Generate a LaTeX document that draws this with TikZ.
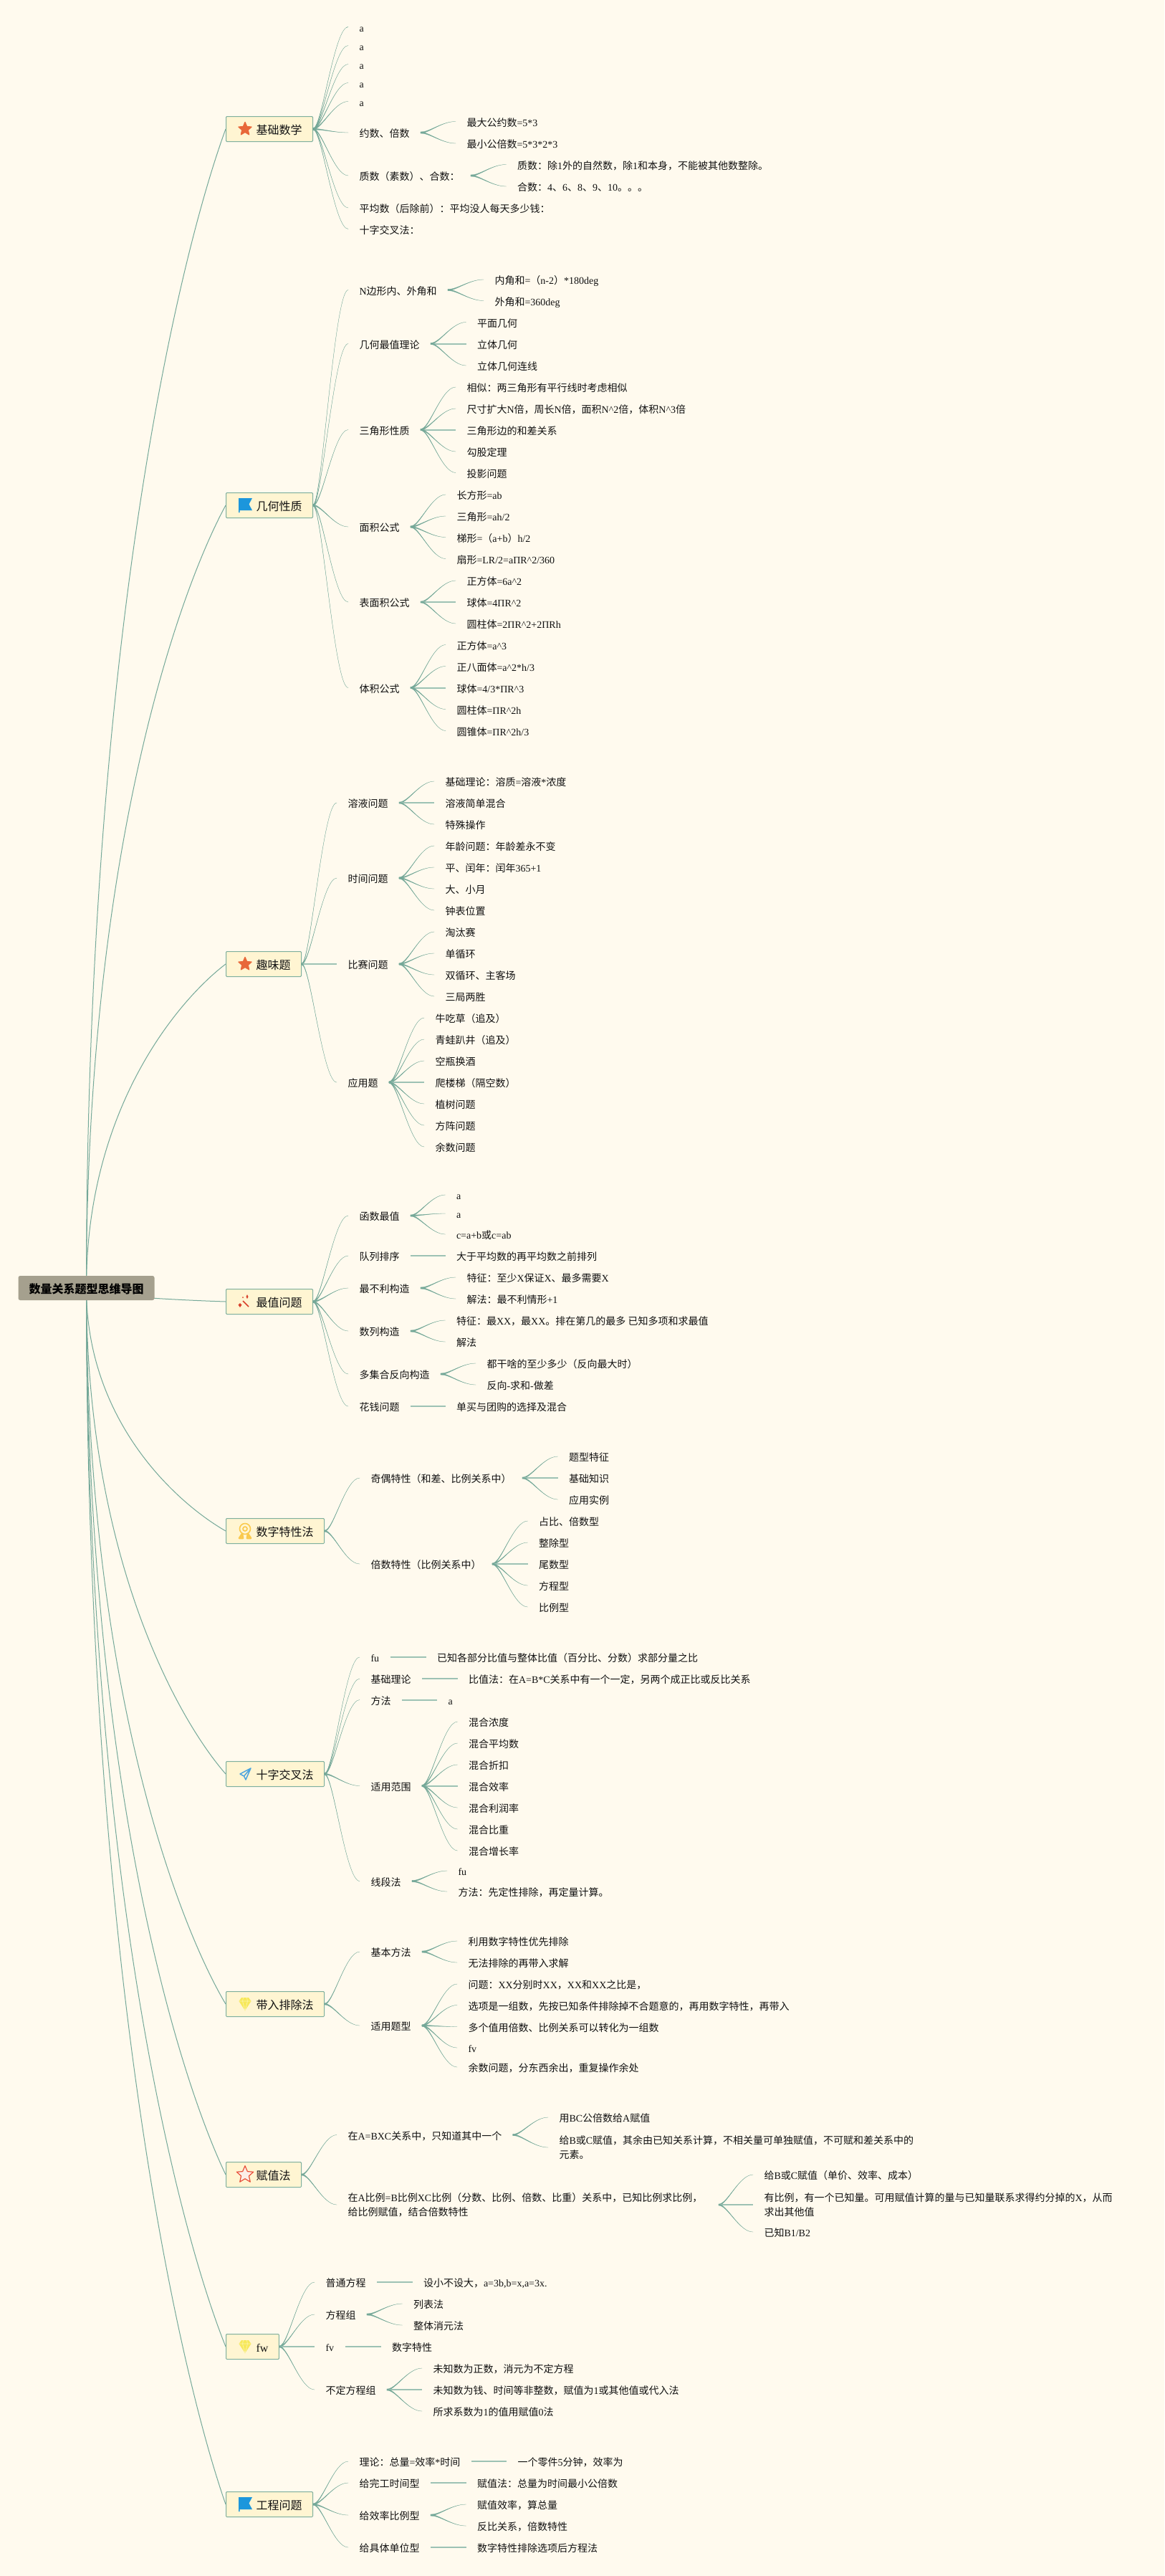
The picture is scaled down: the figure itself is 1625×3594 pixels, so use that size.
\documentclass[tikz,border=0pt]{standalone}
\usepackage{fontspec}
\usetikzlibrary{calc,backgrounds}
\setmainfont{Liberation Serif}
\newfontfamily\latinf{Liberation Serif}
\newfontfamily\cjk{Noto Sans CJK SC}

% font switch between Latin runs and CJK runs
\newXeTeXintercharclass\cjkclass
\count255="4E00
\loop\ifnum\count255<"A000 \XeTeXcharclass\count255=\cjkclass \advance\count255 by 1 \repeat
\count255="3000
\loop\ifnum\count255<"3040 \XeTeXcharclass\count255=\cjkclass \advance\count255 by 1 \repeat
\count255="FF00
\loop\ifnum\count255<"FFF0 \XeTeXcharclass\count255=\cjkclass \advance\count255 by 1 \repeat
\XeTeXinterchartoks 0 \cjkclass={\cjk}
\XeTeXinterchartoks 4095 \cjkclass={\cjk}
\XeTeXinterchartoks \cjkclass 0={\latinf}
\XeTeXinterchartoks 4095 0={\latinf}
\XeTeXinterchartokenstate=1

\newcommand{\ct}{\textasciicircum{}}

\definecolor{paperc}{HTML}{FFFAEE}
\definecolor{linkc}{HTML}{74A898}
\definecolor{flatc}{HTML}{9DC2B4}
\definecolor{boxc}{HTML}{FFF5D2}
\definecolor{edgec}{HTML}{7FB09E}
\definecolor{rootc}{HTML}{A5A08E}
\definecolor{inkc}{HTML}{111111}
\definecolor{starc}{HTML}{E8683A}
\definecolor{ringc}{HTML}{E8503A}
\definecolor{flagc}{HTML}{1C96DC}
\definecolor{wandc}{HTML}{D9402B}
\definecolor{medalc}{HTML}{FAC94C}
\definecolor{planec}{HTML}{4AA3DF}
\definecolor{gemc}{HTML}{F7E85A}

\tikzset{
  every picture/.style={line width=0.75pt},
  leafbase/.style={anchor=west,inner xsep=11.25pt,inner ysep=0pt,text=inkc,font=\fontsize{10.5}{15}\selectfont},
  leaf/.style={leafbase,text height=11.3pt,text depth=1.5pt},
  leaftwo/.style={leafbase,align=left},
  mainbox/.style={anchor=west,draw=edgec,fill=boxc,rounded corners=0.8pt,inner xsep=11.25pt,inner ysep=0pt,minimum height=26.25pt,text height=12.4pt,text depth=1.8pt,text=inkc,font=\fontsize{12}{15}\selectfont},
  rootbox/.style={fill=rootc,rounded corners=2pt,minimum width=142.5pt,minimum height=25.5pt,inner sep=0pt,text height=12.4pt,text depth=1.8pt,text=black,font=\fontsize{12}{15}\selectfont\bfseries},
  flat/.style={draw=flatc,line width=1.5pt},
  link/.style={draw=linkc,fill=linkc,line width=0.2pt,to path={
    ($(\tikztostart)+(0,-1)$) .. controls ($(\tikztostart)!0.25!(\tikztotarget|-\tikztostart)+(0,-0.5)$) and ($(\tikztostart|-\tikztotarget)!0.6!(\tikztotarget)$) .. (\tikztotarget)
    .. controls ($(\tikztostart|-\tikztotarget)!0.6!(\tikztotarget)$) and ($(\tikztostart)!0.25!(\tikztotarget|-\tikztostart)+(0,0.5)$) .. ($(\tikztostart)+(0,1)$) -- cycle}},
  trunk/.style={draw=linkc,line width=0.75pt,to path={
    .. controls ($(\tikztostart)!0.55!(\tikztostart|-\tikztotarget)$) and ($(\tikztostart)!0.85!(\tikztotarget)!0.235!(\tikztostart|-\tikztotarget)$) .. (\tikztotarget)}}
}

\newcommand{\iconstar}[1]{\begin{scope}[shift={(#1)}]
  \fill[draw=starc,fill=starc,line width=1pt,line join=round] (0,-9.5) -- (2.6,-3.4) -- (9,-2.9) -- (4.2,1.4) -- (5.6,7.8) -- (0,4.4) -- (-5.6,7.8) -- (-4.2,1.4) -- (-9,-2.9) -- (-2.6,-3.4) -- cycle;
\end{scope}}
\newcommand{\iconring}[1]{\begin{scope}[shift={(#1)},scale=1.3]
  \draw[draw=ringc,fill=starc!12,line width=0.9pt,line join=round] (0,-9.5) -- (2.6,-3.4) -- (9,-2.9) -- (4.2,1.4) -- (5.6,7.8) -- (0,4.4) -- (-5.6,7.8) -- (-4.2,1.4) -- (-9,-2.9) -- (-2.6,-3.4) -- cycle;
\end{scope}}
\newcommand{\iconflag}[1]{\begin{scope}[shift={(#1)}]
  \fill[flagc] (-9.5,-10) -- (9.5,-10) -- (5,-1.5) -- (9.5,7) -- (-8,7) -- (-8,10) -- (-9.5,10) -- cycle;
\end{scope}}
\newcommand{\iconwand}[1]{\begin{scope}[shift={(#1)}]
  \draw[wandc,line width=1.3pt] (-3,-1) -- (5,7);
  \fill[wandc] (3,-10) -- (4.5,-7) -- (3,-4) -- (1.5,-7) -- cycle (-7,2) -- (-4.5,4.5) -- (-7,8) -- (-9.5,4.5) -- cycle (-3,-6) circle (1);
\end{scope}}
\newcommand{\iconmedal}[1]{\begin{scope}[shift={(#1)}]
  \draw[medalc,line width=1.2pt] (0,-3) circle (7.5) (0,-3) circle (3);
  \draw[medalc,line width=2pt,line join=round] (-4,4) -- (-8,10) -- (-3,10) -- cycle (4,4) -- (8,10) -- (3,10) -- cycle;
\end{scope}}
\newcommand{\iconplane}[1]{\begin{scope}[shift={(#1)}]
  \draw[planec,line width=1.1pt,line join=round] (8,-8) -- (-7,0) -- (-1.5,3) -- (1,8) -- cycle (8,-8) -- (-1.5,3);
\end{scope}}
\newcommand{\icongem}[1]{\begin{scope}[shift={(#1)}]
  \fill[gemc] (-5,-9) -- (5,-9) -- (8.5,-4) -- (0,9) -- (-8.5,-4) -- cycle;
  \draw[gemc!50,line width=0.5pt] (-8.5,-4) -- (8.5,-4) (-2.5,-9) -- (-3.5,-4) -- (0,9) -- (3.5,-4) -- (2.5,-9);
\end{scope}}

\begin{document}
\begin{tikzpicture}[x=0.75pt,y=0.75pt,yscale=-1,xscale=1]

	% Root and main topics
	\node[rootbox] (root) at (120.5,1797) {数量关系题型思维导图};
	\node[mainbox] (jichu) at (315,180) {\hspace*{20.25pt}基础数学};
	\node[mainbox] (jihe) at (315,705) {\hspace*{20.25pt}几何性质};
	\node[mainbox] (quwei) at (315,1345) {\hspace*{20.25pt}趣味题};
	\node[mainbox] (zuizhi) at (315,1816) {\hspace*{20.25pt}最值问题};
	\node[mainbox] (shuzi) at (315,2136) {\hspace*{20.25pt}数字特性法};
	\node[mainbox] (shizi) at (315,2475) {\hspace*{20.25pt}十字交叉法};
	\node[mainbox] (dairu) at (315,2796) {\hspace*{20.25pt}带入排除法};
	\node[mainbox] (fuzhi) at (315,3034) {\hspace*{20.25pt}赋值法};
	\node[mainbox] (fangcheng) at (315,3274) {\hspace*{20.25pt}fw};
	\node[mainbox] (gongcheng) at (315,3494) {\hspace*{20.25pt}工程问题};

	% Paper and trunk lines, behind the root
	\begin{scope}[on background layer]
	\fill[paperc] (0,0) rectangle (1625,3594);
	\draw[trunk] (root.center) to (jichu.west);
	\draw[trunk] (root.center) to (jihe.west);
	\draw[trunk] (root.center) to (quwei.west);
	\draw[trunk] (root.center) to (zuizhi.west);
	\draw[trunk] (root.center) to (shuzi.west);
	\draw[trunk] (root.center) to (shizi.west);
	\draw[trunk] (root.center) to (dairu.west);
	\draw[trunk] (root.center) to (fuzhi.west);
	\draw[trunk] (root.center) to (fangcheng.west);
	\draw[trunk] (root.center) to (gongcheng.west);
	\end{scope}

	% Icons
	\iconstar{342,180}
	\iconflag{342.5,705}
	\iconstar{342,1345}
	\iconwand{342,1816}
	\iconmedal{342,2136}
	\iconplane{342,2475}
	\icongem{342,2796}
	\iconring{342,3034}
	\icongem{342,3274}
	\iconflag{342.5,3494}

	% jichu
	\node[leaf] (jichuA) at (486,37.5) {a};
	\node[leaf] (jichuB) at (486,63.5) {a};
	\node[leaf] (jichuC) at (486,89.5) {a};
	\node[leaf] (jichuD) at (486,115.5) {a};
	\node[leaf] (jichuE) at (486,141.5) {a};
	\node[leaf] (jichuF) at (486,185) {约数、倍数};
	\node[leaf] (jichuG) at (486,245) {质数（素数）、合数：};
	\node[leaf] (jichuH) at (486,290) {平均数（后除前）：平均没人每天多少钱：};
	\node[leaf] (jichuI) at (486,319.5) {十字交叉法：};
	\node[leaf] (jichuF1) at (636,169.5) {最大公约数=5*3};
	\node[leaf] (jichuF2) at (636,200) {最小公倍数=5*3*2*3};
	\node[leaf] (jichuG1) at (706.5,229.5) {质数：除1外的自然数，除1和本身，不能被其他数整除。};
	\node[leaf] (jichuG2) at (706.5,260) {合数：4、6、8、9、10。。。};
	\draw[link] (jichu.east) to (jichuA.west);
	\draw[link] (jichu.east) to (jichuB.west);
	\draw[link] (jichu.east) to (jichuC.west);
	\draw[link] (jichu.east) to (jichuD.west);
	\draw[link] (jichu.east) to (jichuE.west);
	\draw[link] (jichu.east) to (jichuF.west);
	\draw[link] (jichu.east) to (jichuG.west);
	\draw[link] (jichu.east) to (jichuH.west);
	\draw[link] (jichu.east) to (jichuI.west);
	\draw[link] (jichuF.east) to (jichuF1.west);
	\draw[link] (jichuF.east) to (jichuF2.west);
	\draw[link] (jichuG.east) to (jichuG1.west);
	\draw[link] (jichuG.east) to (jichuG2.west);

	% jihe
	\node[leaf] (jiheA) at (486,404.5) {N边形内、外角和};
	\node[leaf] (jiheB) at (486,479.5) {几何最值理论};
	\node[leaf] (jiheC) at (486,599.5) {三角形性质};
	\node[leaf] (jiheD) at (486,735) {面积公式};
	\node[leaf] (jiheE) at (486,840) {表面积公式};
	\node[leaf] (jiheF) at (486,959.5) {体积公式};
	\node[leaf] (jiheA1) at (675,390) {内角和=（n-2）*180deg};
	\node[leaf] (jiheA2) at (675,419.5) {外角和=360deg};
	\node[leaf] (jiheB1) at (650.5,449.5) {平面几何};
	\node[leaf] (jiheB2) at (650.5,479.5) {立体几何};
	\node[leaf] (jiheB3) at (650.5,510) {立体几何连线};
	\node[leaf] (jiheC1) at (636,540) {相似：两三角形有平行线时考虑相似};
	\node[leaf] (jiheC2) at (636,570) {尺寸扩大N倍，周长N倍，面积N\ct2倍，体积N\ct3倍};
	\node[leaf] (jiheC3) at (636,599.5) {三角形边的和差关系};
	\node[leaf] (jiheC4) at (636,630) {勾股定理};
	\node[leaf] (jiheC5) at (636,659.5) {投影问题};
	\node[leaf] (jiheD1) at (622,690) {长方形=ab};
	\node[leaf] (jiheD2) at (622,720) {三角形=ah/2};
	\node[leaf] (jiheD3) at (622,749.5) {梯形=（a+b）h/2};
	\node[leaf] (jiheD4) at (622,779.5) {扇形=LR/2=aΠR\ct2/360};
	\node[leaf] (jiheE1) at (636,810) {正方体=6a\ct2};
	\node[leaf] (jiheE2) at (636,840) {球体=4ΠR\ct2};
	\node[leaf] (jiheE3) at (636,870) {圆柱体=2ΠR\ct2+2ΠRh};
	\node[leaf] (jiheF1) at (622,899.5) {正方体=a\ct3};
	\node[leaf] (jiheF2) at (622,929.5) {正八面体=a\ct2*h/3};
	\node[leaf] (jiheF3) at (622,959.5) {球体=4/3*ΠR\ct3};
	\node[leaf] (jiheF4) at (622,989.5) {圆柱体=ΠR\ct2h};
	\node[leaf] (jiheF5) at (622,1019.5) {圆锥体=ΠR\ct2h/3};
	\draw[link] (jihe.east) to (jiheA.west);
	\draw[link] (jihe.east) to (jiheB.west);
	\draw[link] (jihe.east) to (jiheC.west);
	\draw[link] (jihe.east) to (jiheD.west);
	\draw[link] (jihe.east) to (jiheE.west);
	\draw[link] (jihe.east) to (jiheF.west);
	\draw[link] (jiheA.east) to (jiheA1.west);
	\draw[link] (jiheA.east) to (jiheA2.west);
	\draw[link] (jiheB.east) to (jiheB1.west);
	\draw[flat] (jiheB.east) -- (jiheB2.west);
	\draw[link] (jiheB.east) to (jiheB3.west);
	\draw[link] (jiheC.east) to (jiheC1.west);
	\draw[link] (jiheC.east) to (jiheC2.west);
	\draw[flat] (jiheC.east) -- (jiheC3.west);
	\draw[link] (jiheC.east) to (jiheC4.west);
	\draw[link] (jiheC.east) to (jiheC5.west);
	\draw[link] (jiheD.east) to (jiheD1.west);
	\draw[link] (jiheD.east) to (jiheD2.west);
	\draw[link] (jiheD.east) to (jiheD3.west);
	\draw[link] (jiheD.east) to (jiheD4.west);
	\draw[link] (jiheE.east) to (jiheE1.west);
	\draw[flat] (jiheE.east) -- (jiheE2.west);
	\draw[link] (jiheE.east) to (jiheE3.west);
	\draw[link] (jiheF.east) to (jiheF1.west);
	\draw[link] (jiheF.east) to (jiheF2.west);
	\draw[flat] (jiheF.east) -- (jiheF3.west);
	\draw[link] (jiheF.east) to (jiheF4.west);
	\draw[link] (jiheF.east) to (jiheF5.west);

	% quwei
	\node[leaf] (quweiA) at (470,1120) {溶液问题};
	\node[leaf] (quweiB) at (470,1225) {时间问题};
	\node[leaf] (quweiC) at (470,1345) {比赛问题};
	\node[leaf] (quweiD) at (470,1510) {应用题};
	\node[leaf] (quweiA1) at (606,1090) {基础理论：溶质=溶液*浓度};
	\node[leaf] (quweiA2) at (606,1120) {溶液简单混合};
	\node[leaf] (quweiA3) at (606,1150) {特殊操作};
	\node[leaf] (quweiB1) at (606,1180) {年龄问题：年龄差永不变};
	\node[leaf] (quweiB2) at (606,1210) {平、闰年：闰年365+1};
	\node[leaf] (quweiB3) at (606,1240) {大、小月};
	\node[leaf] (quweiB4) at (606,1270) {钟表位置};
	\node[leaf] (quweiC1) at (606,1300) {淘汰赛};
	\node[leaf] (quweiC2) at (606,1330) {单循环};
	\node[leaf] (quweiC3) at (606,1360) {双循环、主客场};
	\node[leaf] (quweiC4) at (606,1390) {三局两胜};
	\node[leaf] (quweiD1) at (592,1420) {牛吃草（追及）};
	\node[leaf] (quweiD2) at (592,1450) {青蛙趴井（追及）};
	\node[leaf] (quweiD3) at (592,1480) {空瓶换酒};
	\node[leaf] (quweiD4) at (592,1510) {爬楼梯（隔空数）};
	\node[leaf] (quweiD5) at (592,1540) {植树问题};
	\node[leaf] (quweiD6) at (592,1570) {方阵问题};
	\node[leaf] (quweiD7) at (592,1600) {余数问题};
	\draw[link] (quwei.east) to (quweiA.west);
	\draw[link] (quwei.east) to (quweiB.west);
	\draw[flat] (quwei.east) -- (quweiC.west);
	\draw[link] (quwei.east) to (quweiD.west);
	\draw[link] (quweiA.east) to (quweiA1.west);
	\draw[flat] (quweiA.east) -- (quweiA2.west);
	\draw[link] (quweiA.east) to (quweiA3.west);
	\draw[link] (quweiB.east) to (quweiB1.west);
	\draw[link] (quweiB.east) to (quweiB2.west);
	\draw[link] (quweiB.east) to (quweiB3.west);
	\draw[link] (quweiB.east) to (quweiB4.west);
	\draw[link] (quweiC.east) to (quweiC1.west);
	\draw[link] (quweiC.east) to (quweiC2.west);
	\draw[link] (quweiC.east) to (quweiC3.west);
	\draw[link] (quweiC.east) to (quweiC4.west);
	\draw[link] (quweiD.east) to (quweiD1.west);
	\draw[link] (quweiD.east) to (quweiD2.west);
	\draw[link] (quweiD.east) to (quweiD3.west);
	\draw[flat] (quweiD.east) -- (quweiD4.west);
	\draw[link] (quweiD.east) to (quweiD5.west);
	\draw[link] (quweiD.east) to (quweiD6.west);
	\draw[link] (quweiD.east) to (quweiD7.west);

	% zuizhi
	\node[leaf] (zuizhiA) at (486,1696) {函数最值};
	\node[leaf] (zuizhiB) at (486,1752) {队列排序};
	\node[leaf] (zuizhiC) at (486,1797) {最不利构造};
	\node[leaf] (zuizhiD) at (486,1857) {数列构造};
	\node[leaf] (zuizhiE) at (486,1917) {多集合反向构造};
	\node[leaf] (zuizhiF) at (486,1962) {花钱问题};
	\node[leaf] (zuizhiA1) at (621.5,1667) {a};
	\node[leaf] (zuizhiA2) at (621.5,1693) {a};
	\node[leaf] (zuizhiA3) at (621.5,1722) {c=a+b或c=ab};
	\node[leaf] (zuizhiB1) at (621.5,1752) {大于平均数的再平均数之前排列};
	\node[leaf] (zuizhiC1) at (636,1782) {特征：至少X保证X、最多需要X};
	\node[leaf] (zuizhiC2) at (636,1812) {解法：最不利情形+1};
	\node[leaf] (zuizhiD1) at (621.5,1842) {特征：最XX，最XX。排在第几的最多 已知多项和求最值};
	\node[leaf] (zuizhiD2) at (621.5,1872) {解法};
	\node[leaf] (zuizhiE1) at (664,1902) {都干啥的至少多少（反向最大时）};
	\node[leaf] (zuizhiE2) at (664,1932) {反向-求和-做差};
	\node[leaf] (zuizhiF1) at (621.5,1962) {单买与团购的选择及混合};
	\draw[link] (zuizhi.east) to (zuizhiA.west);
	\draw[link] (zuizhi.east) to (zuizhiB.west);
	\draw[link] (zuizhi.east) to (zuizhiC.west);
	\draw[link] (zuizhi.east) to (zuizhiD.west);
	\draw[link] (zuizhi.east) to (zuizhiE.west);
	\draw[link] (zuizhi.east) to (zuizhiF.west);
	\draw[link] (zuizhiA.east) to (zuizhiA1.west);
	\draw[link] (zuizhiA.east) to (zuizhiA2.west);
	\draw[link] (zuizhiA.east) to (zuizhiA3.west);
	\draw[flat] (zuizhiB.east) -- (zuizhiB1.west);
	\draw[link] (zuizhiC.east) to (zuizhiC1.west);
	\draw[link] (zuizhiC.east) to (zuizhiC2.west);
	\draw[link] (zuizhiD.east) to (zuizhiD1.west);
	\draw[link] (zuizhiD.east) to (zuizhiD2.west);
	\draw[link] (zuizhiE.east) to (zuizhiE1.west);
	\draw[link] (zuizhiE.east) to (zuizhiE2.west);
	\draw[flat] (zuizhiF.east) -- (zuizhiF1.west);

	% shuzi
	\node[leaf] (shuziA) at (502,2062) {奇偶特性（和差、比例关系中）};
	\node[leaf] (shuziB) at (502,2182) {倍数特性（比例关系中）};
	\node[leaf] (shuziA1) at (778.5,2032) {题型特征};
	\node[leaf] (shuziA2) at (778.5,2062) {基础知识};
	\node[leaf] (shuziA3) at (778.5,2092) {应用实例};
	\node[leaf] (shuziB1) at (736.5,2122) {占比、倍数型};
	\node[leaf] (shuziB2) at (736.5,2152) {整除型};
	\node[leaf] (shuziB3) at (736.5,2182) {尾数型};
	\node[leaf] (shuziB4) at (736.5,2212) {方程型};
	\node[leaf] (shuziB5) at (736.5,2242) {比例型};
	\draw[link] (shuzi.east) to (shuziA.west);
	\draw[link] (shuzi.east) to (shuziB.west);
	\draw[link] (shuziA.east) to (shuziA1.west);
	\draw[flat] (shuziA.east) -- (shuziA2.west);
	\draw[link] (shuziA.east) to (shuziA3.west);
	\draw[link] (shuziB.east) to (shuziB1.west);
	\draw[link] (shuziB.east) to (shuziB2.west);
	\draw[flat] (shuziB.east) -- (shuziB3.west);
	\draw[link] (shuziB.east) to (shuziB4.west);
	\draw[link] (shuziB.east) to (shuziB5.west);

	% shizi
	\node[leaf] (shiziA) at (502,2312) {fu};
	\node[leaf] (shiziB) at (502,2342) {基础理论};
	\node[leaf] (shiziC) at (502,2371.5) {方法};
	\node[leaf] (shiziD) at (502,2491.5) {适用范围};
	\node[leaf] (shiziE) at (502,2624.5) {线段法};
	\node[leaf] (shiziA1) at (594.5,2312) {已知各部分比值与整体比值（百分比、分数）求部分量之比};
	\node[leaf] (shiziB1) at (638.5,2342) {比值法：在A=B*C关系中有一个一定，另两个成正比或反比关系};
	\node[leaf] (shiziC1) at (610,2371.5) {a};
	\node[leaf] (shiziD1) at (638.5,2402) {混合浓度};
	\node[leaf] (shiziD2) at (638.5,2432) {混合平均数};
	\node[leaf] (shiziD3) at (638.5,2462) {混合折扣};
	\node[leaf] (shiziD4) at (638.5,2491.5) {混合效率};
	\node[leaf] (shiziD5) at (638.5,2522) {混合利润率};
	\node[leaf] (shiziD6) at (638.5,2552) {混合比重};
	\node[leaf] (shiziD7) at (638.5,2582) {混合增长率};
	\node[leaf] (shiziE1) at (624,2610) {fu};
	\node[leaf] (shiziE2) at (624,2639) {方法：先定性排除，再定量计算。};
	\draw[link] (shizi.east) to (shiziA.west);
	\draw[link] (shizi.east) to (shiziB.west);
	\draw[link] (shizi.east) to (shiziC.west);
	\draw[link] (shizi.east) to (shiziD.west);
	\draw[link] (shizi.east) to (shiziE.west);
	\draw[flat] (shiziA.east) -- (shiziA1.west);
	\draw[flat] (shiziB.east) -- (shiziB1.west);
	\draw[flat] (shiziC.east) -- (shiziC1.west);
	\draw[link] (shiziD.east) to (shiziD1.west);
	\draw[link] (shiziD.east) to (shiziD2.west);
	\draw[link] (shiziD.east) to (shiziD3.west);
	\draw[flat] (shiziD.east) -- (shiziD4.west);
	\draw[link] (shiziD.east) to (shiziD5.west);
	\draw[link] (shiziD.east) to (shiziD6.west);
	\draw[link] (shiziD.east) to (shiziD7.west);
	\draw[link] (shiziE.east) to (shiziE1.west);
	\draw[link] (shiziE.east) to (shiziE2.west);

	% dairu
	\node[leaf] (dairuA) at (502,2723) {基本方法};
	\node[leaf] (dairuB) at (502,2826) {适用题型};
	\node[leaf] (dairuA1) at (638,2708) {利用数字特性优先排除};
	\node[leaf] (dairuA2) at (638,2738) {无法排除的再带入求解};
	\node[leaf] (dairuB1) at (638,2768) {问题：XX分别时XX，XX和XX之比是，};
	\node[leaf] (dairuB2) at (638,2797.5) {选项是一组数，先按已知条件排除掉不合题意的，再用数字特性，再带入};
	\node[leaf] (dairuB3) at (638,2827.5) {多个值用倍数、比例关系可以转化为一组数};
	\node[leaf] (dairuB4) at (638,2857) {fv};
	\node[leaf] (dairuB5) at (638,2884) {余数问题，分东西余出，重复操作余处};
	\draw[link] (dairu.east) to (dairuA.west);
	\draw[link] (dairu.east) to (dairuB.west);
	\draw[link] (dairuA.east) to (dairuA1.west);
	\draw[link] (dairuA.east) to (dairuA2.west);
	\draw[link] (dairuB.east) to (dairuB1.west);
	\draw[link] (dairuB.east) to (dairuB2.west);
	\draw[link] (dairuB.east) to (dairuB3.west);
	\draw[link] (dairuB.east) to (dairuB4.west);
	\draw[link] (dairuB.east) to (dairuB5.west);

	% fuzhi
	\node[leaf] (fuzhiA) at (470,2978.5) {在A=BXC关系中，只知道其中一个};
	\node[leaftwo,text width=376.5pt] (fuzhiB) at (470,3076) {在A比例=B比例XC比例（分数、比例、倍数、比重）关系中，已知比例求比例，\\给比例赋值，结合倍数特性};
	\node[leaf] (fuzhiA1) at (765,2954) {用BC公倍数给A赋值};
	\node[leaftwo] (fuzhiA2) at (765,2996) {给B或C赋值，其余由已知关系计算，不相关量可单独赋值，不可赋和差关系中的\\元素。};
	\node[leaf] (fuzhiB1) at (1051,3034) {给B或C赋值（单价、效率、成本）};
	\node[leaftwo] (fuzhiB2) at (1051,3076) {有比例，有一个已知量。可用赋值计算的量与已知量联系求得约分掉的X，从而\\求出其他值};
	\node[leaf] (fuzhiB3) at (1051,3114) {已知B1/B2};
	\draw[link] (fuzhi.east) to (fuzhiA.west);
	\draw[link] (fuzhi.east) to (fuzhiB.west);
	\draw[link] (fuzhiA.east) to (fuzhiA1.west);
	\draw[link] (fuzhiA.east) to (fuzhiA2.west);
	\draw[link] (fuzhiB.east) to (fuzhiB1.west);
	\draw[flat] (fuzhiB.east) -- (fuzhiB2.west);
	\draw[link] (fuzhiB.east) to (fuzhiB3.west);

	% fangcheng
	\node[leaf] (fangchengA) at (439,3184) {普通方程};
	\node[leaf] (fangchengB) at (439,3229) {方程组};
	\node[leaf] (fangchengC) at (439,3274) {fv};
	\node[leaf] (fangchengD) at (439,3334) {不定方程组};
	\node[leaf] (fangchengA1) at (575.5,3184) {设小不设大，a=3b,b=x,a=3x.};
	\node[leaf] (fangchengB1) at (561.5,3214) {列表法};
	\node[leaf] (fangchengB2) at (561.5,3244) {整体消元法};
	\node[leaf] (fangchengC1) at (531.5,3274) {数字特性};
	\node[leaf] (fangchengD1) at (589,3304) {未知数为正数，消元为不定方程};
	\node[leaf] (fangchengD2) at (589,3334) {未知数为钱、时间等非整数，赋值为1或其他值或代入法};
	\node[leaf] (fangchengD3) at (589,3364) {所求系数为1的值用赋值0法};
	\draw[link] (fangcheng.east) to (fangchengA.west);
	\draw[link] (fangcheng.east) to (fangchengB.west);
	\draw[flat] (fangcheng.east) -- (fangchengC.west);
	\draw[link] (fangcheng.east) to (fangchengD.west);
	\draw[flat] (fangchengA.east) -- (fangchengA1.west);
	\draw[link] (fangchengB.east) to (fangchengB1.west);
	\draw[link] (fangchengB.east) to (fangchengB2.west);
	\draw[flat] (fangchengC.east) -- (fangchengC1.west);
	\draw[link] (fangchengD.east) to (fangchengD1.west);
	\draw[flat] (fangchengD.east) -- (fangchengD2.west);
	\draw[link] (fangchengD.east) to (fangchengD3.west);

	% gongcheng
	\node[leaf] (gongchengA) at (486,3434) {理论：总量=效率*时间};
	\node[leaf] (gongchengB) at (486,3464) {给完工时间型};
	\node[leaf] (gongchengC) at (486,3509) {给效率比例型};
	\node[leaf] (gongchengD) at (486,3554) {给具体单位型};
	\node[leaf] (gongchengA1) at (707,3434) {一个零件5分钟，效率为};
	\node[leaf] (gongchengB1) at (650.5,3464) {赋值法：总量为时间最小公倍数};
	\node[leaf] (gongchengC1) at (650.5,3494) {赋值效率，算总量};
	\node[leaf] (gongchengC2) at (650.5,3524) {反比关系，倍数特性};
	\node[leaf] (gongchengD1) at (650.5,3554) {数字特性排除选项后方程法};
	\draw[link] (gongcheng.east) to (gongchengA.west);
	\draw[link] (gongcheng.east) to (gongchengB.west);
	\draw[link] (gongcheng.east) to (gongchengC.west);
	\draw[link] (gongcheng.east) to (gongchengD.west);
	\draw[flat] (gongchengA.east) -- (gongchengA1.west);
	\draw[flat] (gongchengB.east) -- (gongchengB1.west);
	\draw[link] (gongchengC.east) to (gongchengC1.west);
	\draw[link] (gongchengC.east) to (gongchengC2.west);
	\draw[flat] (gongchengD.east) -- (gongchengD1.west);

\end{tikzpicture}
\end{document}
